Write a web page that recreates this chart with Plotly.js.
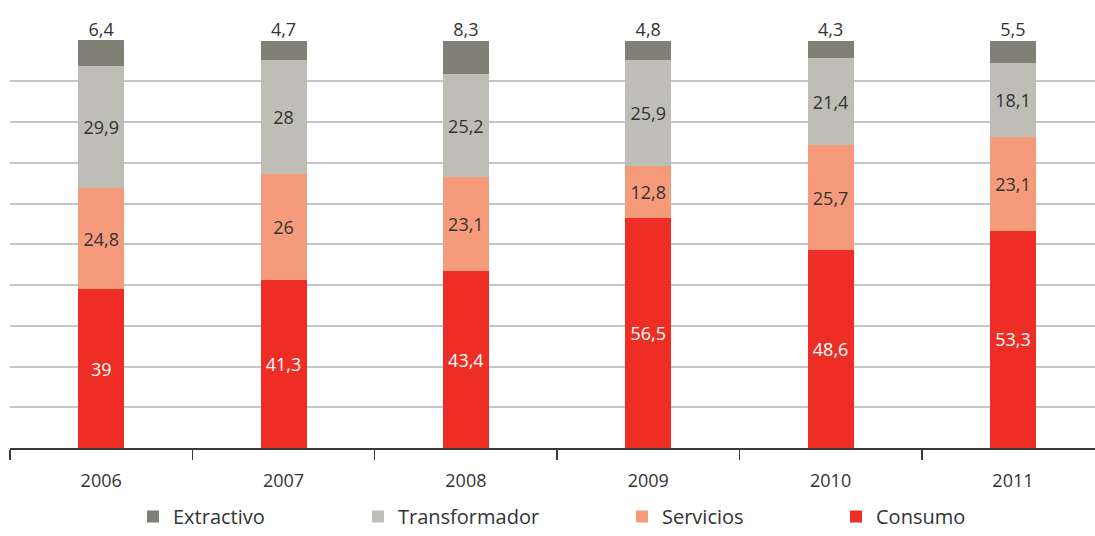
<!DOCTYPE html>
<html>
<head>
<meta charset="utf-8">
<script src="https://cdn.plot.ly/plotly-3.0.1.min.js"></script>
<style>html,body{margin:0;padding:0;background:#fff;}#chart{width:1095px;height:536px;}</style>
</head>
<body>
<div id="chart"></div>
<script>
const years = ['2006', '2007', '2008', '2009', '2010', '2011'];
const consumo = [39, 41.3, 43.4, 56.5, 48.6, 53.3];
const servicios = [24.8, 26, 23.1, 12.8, 25.7, 23.1];
const transformador = [29.9, 28, 25.2, 25.9, 21.4, 18.1];
const extractivo = [6.4, 4.7, 8.3, 4.8, 4.3, 5.5];

const FONT = '"Open Sans", "DejaVu Sans", sans-serif';
const fmt = arr => arr.map(v => String(v).replace('.', ','));

function bar(name, vals, color, textColor, legendId, showText) {
  return {
    type: 'bar', name: name, x: years, y: vals,
    marker: {color: color, line: {width: 0}},
    text: showText ? fmt(vals) : null,
    textposition: showText ? 'inside' : 'none', insidetextanchor: 'middle',
    textfont: {family: FONT, size: 18, color: textColor},
    constraintext: 'none', cliponaxis: false,
    hoverinfo: 'x+y+name', legend: legendId
  };
}

// Extractivo labels sit above the top of each stacked bar
const totals = years.map((_, i) => consumo[i] + servicios[i] + transformador[i] + extractivo[i]);

const data = [
  bar('Consumo', consumo, '#ee2e24', '#ffffff', 'legend4', true),
  bar('Servicios', servicios, '#f59b7c', '#333333', 'legend3', true),
  bar('Transformador', transformador, '#bebeb7', '#333333', 'legend2', true),
  bar('Extractivo', extractivo, '#808074', '#333333', 'legend', false),
  {
    type: 'scatter', mode: 'text', x: years, y: totals, text: fmt(extractivo),
    textposition: 'top center', cliponaxis: false, showlegend: false, hoverinfo: 'skip',
    textfont: {family: FONT, size: 18, color: '#333333'}
  }
];

function leg(xpx) {
  return {
    orientation: 'h', x: (xpx - 10) / 1085, xanchor: 'left',
    yref: 'container', y: 0, yanchor: 'bottom',
    font: {family: FONT, size: 20, color: '#333333'}, bgcolor: 'rgba(0,0,0,0)',
    itemclick: false, itemdoubleclick: false
  };
}

const layout = {
  width: 1095, height: 536,
  margin: {l: 10, r: 0, t: 40, b: 88},
  paper_bgcolor: '#ffffff', plot_bgcolor: '#ffffff',
  barmode: 'stack', bargap: 0.748,
  font: {family: FONT, color: '#333333'},
  showlegend: true,
  legend: leg(133),
  legend2: leg(358),
  legend3: leg(622),
  legend4: leg(836),
  xaxis: {
    type: 'category', range: [-0.5, 5.45], fixedrange: true, automargin: false,
    showline: true, linecolor: '#3a3a3a', linewidth: 1.5,
    ticks: 'outside', tickson: 'boundaries', ticklen: 10, tickwidth: 1.5, tickcolor: '#3a3a3a',
    tickfont: {family: FONT, size: 18, color: '#333333'},
    ticklabelstandoff: 16, showgrid: false
  },
  yaxis: {
    range: [0, 100.15], dtick: 10, showticklabels: false, fixedrange: true, automargin: false,
    showgrid: true, gridcolor: '#c6c6ca', gridwidth: 2, zeroline: false, ticks: ''
  }
};

Plotly.newPlot('chart', data, layout, {displayModeBar: false, staticPlot: true});
</script>
</body>
</html>
